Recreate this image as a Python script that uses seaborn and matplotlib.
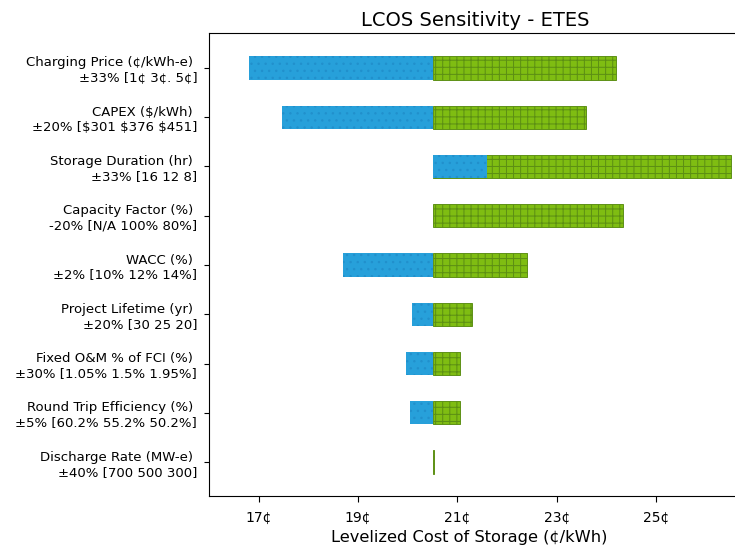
import matplotlib
matplotlib.use("Agg")
import matplotlib.pyplot as plt
import seaborn as sns
from matplotlib.ticker import FixedLocator, FuncFormatter

# Sensitivity inputs (top to bottom) and resulting LCOS in cents/kWh
labels = [
    "Charging Price (¢/kWh-e) \n±33% [1¢ 3¢. 5¢]",
    "CAPEX ($/kWh) \n±20% [$301 $376 $451]",
    "Storage Duration (hr) \n±33% [16 12 8]",
    "Capacity Factor (%) \n-20% [N/A 100% 80%]",
    "WACC (%) \n±2% [10% 12% 14%]",
    "Project Lifetime (yr) \n±20% [30 25 20]",
    "Fixed O&M % of FCI (%) \n±30% [1.05% 1.5% 1.95%]",
    "Round Trip Efficiency (%) \n±5% [60.2% 55.2% 50.2%]",
    "Discharge Rate (MW-e) \n±40% [700 500 300]",
]
base_lcos = 20.51
low_case_lcos = [16.81, 17.46, 21.59, 20.51, 18.70, 20.09, 19.97, 20.04, 20.51]
high_case_lcos = [24.19, 23.59, 26.52, 24.33, 22.41, 21.29, 21.06, 21.06, 20.54]
xticks = [17, 19, 21, 23, 25]

DPI = 85
S = 100 / DPI  # keep type sizes as they would be at 100 dpi

plt.rcParams["hatch.linewidth"] = 0.85
plt.rcParams["font.family"] = ["DejaVu Sans"]

fig = plt.figure(figsize=(735 / DPI, 552 / DPI), dpi=DPI)
ax = fig.add_axes([0.2844, 0.1014, 0.7256, 0.8388])

high_delta = [h - base_lcos for h in high_case_lcos]
low_delta = [l - base_lcos for l in low_case_lcos]

# high case drawn first, low case on top
sns.barplot(x=high_delta, y=labels, order=labels, orient="h", ax=ax,
            left=base_lcos, color="#7fbd12", saturation=1, width=0.47,
            edgecolor="#5c8f14", linewidth=0.8, hatch="++", errorbar=None)
sns.barplot(x=low_delta, y=labels, order=labels, orient="h", ax=ax,
            left=base_lcos, color="#27a0da", saturation=1, width=0.47,
            edgecolor="#2190cc", linewidth=0, hatch="..", errorbar=None)

ax.set_xlim(16.0, 26.74)
ax.set_ylim(8.69, -0.71)
ax.xaxis.set_major_locator(FixedLocator(xticks))
ax.xaxis.set_major_formatter(FuncFormatter(lambda v, p: f"{int(round(v))}¢"))
ax.tick_params(axis="x", labelsize=10 * S, width=0.8 * S, length=4.5 * S,
               pad=6.5 * S)
ax.tick_params(axis="y", labelsize=9.5 * S, width=0.8 * S, length=3.5 * S,
               pad=5.0 * S)
for sp in ax.spines.values():
    sp.set_linewidth(0.8 * S)

ax.set_ylabel("")
ax.set_xlabel("Levelized Cost of Storage (¢/kWh)", fontsize=11.7 * S)
ax.xaxis.set_label_coords(0.488, -0.074)
ax.set_title("LCOS Sensitivity - ETES", fontsize=14 * S)

fig.savefig("out.png", dpi=DPI)
